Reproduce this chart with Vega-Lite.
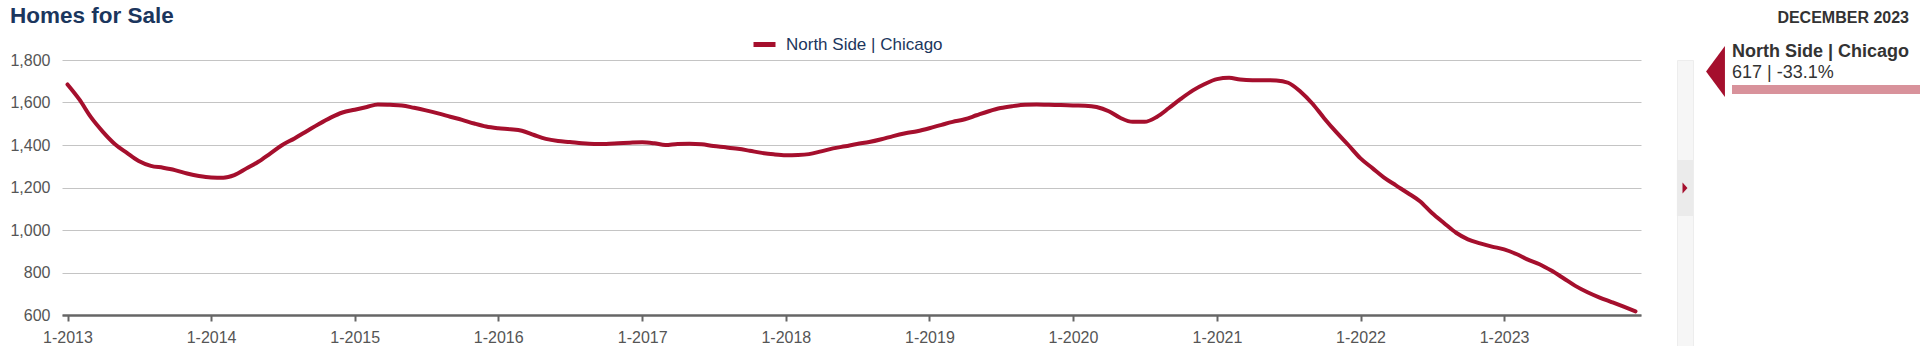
{
  "$schema": "https://vega.github.io/schema/vega-lite/v6.json",
  "autosize": {"type": "pad"},
  "padding": {"left": 9, "top": 4, "right": 0, "bottom": 0},
  "background": "white",
  "config": {"font": "Liberation Sans", "view": {"stroke": null}},
  "spacing": 35,
  "hconcat": [
    {
      "width": 1579,
      "height": 255,
      "title": {"text": "Homes for Sale", "anchor": "start", "frame": "bounds", "fontSize": 22.5, "fontWeight": "bold", "color": "#1b365d", "offset": 25},
      "data": {"values": [
        {"date": "2013-01-01", "homes": 1685, "region": "North Side | Chicago"},
        {"date": "2013-02-01", "homes": 1612, "region": "North Side | Chicago"},
        {"date": "2013-03-01", "homes": 1532, "region": "North Side | Chicago"},
        {"date": "2013-04-01", "homes": 1462, "region": "North Side | Chicago"},
        {"date": "2013-05-01", "homes": 1405, "region": "North Side | Chicago"},
        {"date": "2013-06-01", "homes": 1363, "region": "North Side | Chicago"},
        {"date": "2013-07-01", "homes": 1325, "region": "North Side | Chicago"},
        {"date": "2013-08-01", "homes": 1302, "region": "North Side | Chicago"},
        {"date": "2013-09-01", "homes": 1293, "region": "North Side | Chicago"},
        {"date": "2013-10-01", "homes": 1282, "region": "North Side | Chicago"},
        {"date": "2013-11-01", "homes": 1266, "region": "North Side | Chicago"},
        {"date": "2013-12-01", "homes": 1254, "region": "North Side | Chicago"},
        {"date": "2014-01-01", "homes": 1247, "region": "North Side | Chicago"},
        {"date": "2014-02-01", "homes": 1246, "region": "North Side | Chicago"},
        {"date": "2014-03-01", "homes": 1258, "region": "North Side | Chicago"},
        {"date": "2014-04-01", "homes": 1290, "region": "North Side | Chicago"},
        {"date": "2014-05-01", "homes": 1321, "region": "North Side | Chicago"},
        {"date": "2014-06-01", "homes": 1361, "region": "North Side | Chicago"},
        {"date": "2014-07-01", "homes": 1400, "region": "North Side | Chicago"},
        {"date": "2014-08-01", "homes": 1431, "region": "North Side | Chicago"},
        {"date": "2014-09-01", "homes": 1465, "region": "North Side | Chicago"},
        {"date": "2014-10-01", "homes": 1498, "region": "North Side | Chicago"},
        {"date": "2014-11-01", "homes": 1529, "region": "North Side | Chicago"},
        {"date": "2014-12-01", "homes": 1553, "region": "North Side | Chicago"},
        {"date": "2015-01-01", "homes": 1566, "region": "North Side | Chicago"},
        {"date": "2015-02-01", "homes": 1579, "region": "North Side | Chicago"},
        {"date": "2015-03-01", "homes": 1591, "region": "North Side | Chicago"},
        {"date": "2015-04-01", "homes": 1589, "region": "North Side | Chicago"},
        {"date": "2015-05-01", "homes": 1586, "region": "North Side | Chicago"},
        {"date": "2015-06-01", "homes": 1575, "region": "North Side | Chicago"},
        {"date": "2015-07-01", "homes": 1563, "region": "North Side | Chicago"},
        {"date": "2015-08-01", "homes": 1549, "region": "North Side | Chicago"},
        {"date": "2015-09-01", "homes": 1533, "region": "North Side | Chicago"},
        {"date": "2015-10-01", "homes": 1518, "region": "North Side | Chicago"},
        {"date": "2015-11-01", "homes": 1501, "region": "North Side | Chicago"},
        {"date": "2015-12-01", "homes": 1487, "region": "North Side | Chicago"},
        {"date": "2016-01-01", "homes": 1479, "region": "North Side | Chicago"},
        {"date": "2016-02-01", "homes": 1474, "region": "North Side | Chicago"},
        {"date": "2016-03-01", "homes": 1467, "region": "North Side | Chicago"},
        {"date": "2016-04-01", "homes": 1447, "region": "North Side | Chicago"},
        {"date": "2016-05-01", "homes": 1429, "region": "North Side | Chicago"},
        {"date": "2016-06-01", "homes": 1419, "region": "North Side | Chicago"},
        {"date": "2016-07-01", "homes": 1414, "region": "North Side | Chicago"},
        {"date": "2016-08-01", "homes": 1408, "region": "North Side | Chicago"},
        {"date": "2016-09-01", "homes": 1405, "region": "North Side | Chicago"},
        {"date": "2016-10-01", "homes": 1405, "region": "North Side | Chicago"},
        {"date": "2016-11-01", "homes": 1408, "region": "North Side | Chicago"},
        {"date": "2016-12-01", "homes": 1411, "region": "North Side | Chicago"},
        {"date": "2017-01-01", "homes": 1413, "region": "North Side | Chicago"},
        {"date": "2017-02-01", "homes": 1408, "region": "North Side | Chicago"},
        {"date": "2017-03-01", "homes": 1400, "region": "North Side | Chicago"},
        {"date": "2017-04-01", "homes": 1405, "region": "North Side | Chicago"},
        {"date": "2017-05-01", "homes": 1406, "region": "North Side | Chicago"},
        {"date": "2017-06-01", "homes": 1403, "region": "North Side | Chicago"},
        {"date": "2017-07-01", "homes": 1395, "region": "North Side | Chicago"},
        {"date": "2017-08-01", "homes": 1389, "region": "North Side | Chicago"},
        {"date": "2017-09-01", "homes": 1382, "region": "North Side | Chicago"},
        {"date": "2017-10-01", "homes": 1373, "region": "North Side | Chicago"},
        {"date": "2017-11-01", "homes": 1363, "region": "North Side | Chicago"},
        {"date": "2017-12-01", "homes": 1356, "region": "North Side | Chicago"},
        {"date": "2018-01-01", "homes": 1352, "region": "North Side | Chicago"},
        {"date": "2018-02-01", "homes": 1353, "region": "North Side | Chicago"},
        {"date": "2018-03-01", "homes": 1357, "region": "North Side | Chicago"},
        {"date": "2018-04-01", "homes": 1370, "region": "North Side | Chicago"},
        {"date": "2018-05-01", "homes": 1384, "region": "North Side | Chicago"},
        {"date": "2018-06-01", "homes": 1394, "region": "North Side | Chicago"},
        {"date": "2018-07-01", "homes": 1405, "region": "North Side | Chicago"},
        {"date": "2018-08-01", "homes": 1414, "region": "North Side | Chicago"},
        {"date": "2018-09-01", "homes": 1427, "region": "North Side | Chicago"},
        {"date": "2018-10-01", "homes": 1442, "region": "North Side | Chicago"},
        {"date": "2018-11-01", "homes": 1455, "region": "North Side | Chicago"},
        {"date": "2018-12-01", "homes": 1465, "region": "North Side | Chicago"},
        {"date": "2019-01-01", "homes": 1479, "region": "North Side | Chicago"},
        {"date": "2019-02-01", "homes": 1495, "region": "North Side | Chicago"},
        {"date": "2019-03-01", "homes": 1509, "region": "North Side | Chicago"},
        {"date": "2019-04-01", "homes": 1521, "region": "North Side | Chicago"},
        {"date": "2019-05-01", "homes": 1540, "region": "North Side | Chicago"},
        {"date": "2019-06-01", "homes": 1559, "region": "North Side | Chicago"},
        {"date": "2019-07-01", "homes": 1574, "region": "North Side | Chicago"},
        {"date": "2019-08-01", "homes": 1583, "region": "North Side | Chicago"},
        {"date": "2019-09-01", "homes": 1589, "region": "North Side | Chicago"},
        {"date": "2019-10-01", "homes": 1591, "region": "North Side | Chicago"},
        {"date": "2019-11-01", "homes": 1589, "region": "North Side | Chicago"},
        {"date": "2019-12-01", "homes": 1588, "region": "North Side | Chicago"},
        {"date": "2020-01-01", "homes": 1586, "region": "North Side | Chicago"},
        {"date": "2020-02-01", "homes": 1585, "region": "North Side | Chicago"},
        {"date": "2020-03-01", "homes": 1579, "region": "North Side | Chicago"},
        {"date": "2020-04-01", "homes": 1559, "region": "North Side | Chicago"},
        {"date": "2020-05-01", "homes": 1527, "region": "North Side | Chicago"},
        {"date": "2020-06-01", "homes": 1509, "region": "North Side | Chicago"},
        {"date": "2020-07-01", "homes": 1509, "region": "North Side | Chicago"},
        {"date": "2020-08-01", "homes": 1532, "region": "North Side | Chicago"},
        {"date": "2020-09-01", "homes": 1574, "region": "North Side | Chicago"},
        {"date": "2020-10-01", "homes": 1617, "region": "North Side | Chicago"},
        {"date": "2020-11-01", "homes": 1657, "region": "North Side | Chicago"},
        {"date": "2020-12-01", "homes": 1687, "region": "North Side | Chicago"},
        {"date": "2021-01-01", "homes": 1710, "region": "North Side | Chicago"},
        {"date": "2021-02-01", "homes": 1716, "region": "North Side | Chicago"},
        {"date": "2021-03-01", "homes": 1708, "region": "North Side | Chicago"},
        {"date": "2021-04-01", "homes": 1705, "region": "North Side | Chicago"},
        {"date": "2021-05-01", "homes": 1705, "region": "North Side | Chicago"},
        {"date": "2021-06-01", "homes": 1704, "region": "North Side | Chicago"},
        {"date": "2021-07-01", "homes": 1693, "region": "North Side | Chicago"},
        {"date": "2021-08-01", "homes": 1652, "region": "North Side | Chicago"},
        {"date": "2021-09-01", "homes": 1594, "region": "North Side | Chicago"},
        {"date": "2021-10-01", "homes": 1525, "region": "North Side | Chicago"},
        {"date": "2021-11-01", "homes": 1459, "region": "North Side | Chicago"},
        {"date": "2021-12-01", "homes": 1400, "region": "North Side | Chicago"},
        {"date": "2022-01-01", "homes": 1337, "region": "North Side | Chicago"},
        {"date": "2022-02-01", "homes": 1290, "region": "North Side | Chicago"},
        {"date": "2022-03-01", "homes": 1248, "region": "North Side | Chicago"},
        {"date": "2022-04-01", "homes": 1210, "region": "North Side | Chicago"},
        {"date": "2022-05-01", "homes": 1174, "region": "North Side | Chicago"},
        {"date": "2022-06-01", "homes": 1135, "region": "North Side | Chicago"},
        {"date": "2022-07-01", "homes": 1081, "region": "North Side | Chicago"},
        {"date": "2022-08-01", "homes": 1033, "region": "North Side | Chicago"},
        {"date": "2022-09-01", "homes": 987, "region": "North Side | Chicago"},
        {"date": "2022-10-01", "homes": 956, "region": "North Side | Chicago"},
        {"date": "2022-11-01", "homes": 937, "region": "North Side | Chicago"},
        {"date": "2022-12-01", "homes": 922, "region": "North Side | Chicago"},
        {"date": "2023-01-01", "homes": 909, "region": "North Side | Chicago"},
        {"date": "2023-02-01", "homes": 887, "region": "North Side | Chicago"},
        {"date": "2023-03-01", "homes": 862, "region": "North Side | Chicago"},
        {"date": "2023-04-01", "homes": 839, "region": "North Side | Chicago"},
        {"date": "2023-05-01", "homes": 809, "region": "North Side | Chicago"},
        {"date": "2023-06-01", "homes": 773, "region": "North Side | Chicago"},
        {"date": "2023-07-01", "homes": 737, "region": "North Side | Chicago"},
        {"date": "2023-08-01", "homes": 707, "region": "North Side | Chicago"},
        {"date": "2023-09-01", "homes": 682, "region": "North Side | Chicago"},
        {"date": "2023-10-01", "homes": 661, "region": "North Side | Chicago"},
        {"date": "2023-11-01", "homes": 639, "region": "North Side | Chicago"},
        {"date": "2023-12-01", "homes": 617, "region": "North Side | Chicago"}
      ]},
      "mark": {"type": "line", "strokeWidth": 4, "interpolate": "monotone", "strokeCap": "round", "strokeJoin": "round"},
      "encoding": {
        "x": {
          "field": "date", "type": "temporal",
          "scale": {"type": "utc", "domain": [{"year": 2012, "month": 12, "date": 18, "utc": true}, {"year": 2023, "month": 12, "date": 15, "utc": true}]},
          "axis": {"title": null, "format": "%-m-%Y", "tickCount": {"interval": "year", "step": 1}, "labelFontSize": 16, "labelColor": "#555555", "labelPadding": 8, "tickSize": 6, "tickWidth": 2, "tickColor": "#666666", "domainColor": "#666666", "domainWidth": 2.5, "grid": false, "labelFlush": false, "labelOverlap": false}
        },
        "y": {
          "field": "homes", "type": "quantitative",
          "scale": {"domain": [600, 1800], "nice": false, "zero": false},
          "axis": {"title": null, "values": [600, 800, 1000, 1200, 1400, 1600, 1800], "format": ",d", "grid": true, "gridColor": "#c4c4c4", "gridWidth": 1, "domain": false, "ticks": false, "labelFontSize": 16, "labelColor": "#555555", "labelPadding": 12}
        },
        "color": {
          "field": "region", "type": "nominal",
          "scale": {"range": ["#a50f2d"]},
          "legend": {"title": null, "orient": "none", "legendX": 689, "legendY": -29, "symbolType": "stroke", "symbolStrokeWidth": 5, "symbolSize": 484, "labelFontSize": 17, "labelColor": "#1b365d", "labelOffset": 8, "padding": 0}
        }
      }
    },
    {
      "spacing": 12,
      "hconcat": [
        {
          "width": 16,
          "height": 286,
          "view": {"fill": "#f6f6f6", "stroke": "#ededed"},
          "data": {"values": [{"name": "North Side | Chicago"}]},
          "layer": [
            {"mark": {"type": "point", "shape": "M -0.29 -1 L 0.29 -1 L 0.29 1 L -0.29 1 Z", "size": 3136, "filled": true, "color": "#ebebeb", "opacity": 1, "yOffset": -15}, "encoding": {}},
            {"mark": {"type": "point", "shape": "M -0.45 -1 L 0.45 0 L -0.45 1 Z", "size": 121, "filled": true, "color": "#a50f2d", "opacity": 1, "yOffset": -15}, "encoding": {}}
          ]
        },
        {
          "width": 189,
          "height": 59,
          "title": {"text": "DECEMBER 2023", "anchor": "end", "frame": "group", "fontSize": 16, "fontWeight": "bold", "color": "#333333", "offset": 17, "dx": -12},
          "data": {"values": [{"name": "North Side | Chicago", "value": 617, "change": "-33.1%", "summary": "617 | -33.1%"}]},
          "encoding": {"y": {"field": "name", "type": "nominal", "axis": null, "scale": {"paddingInner": 0, "paddingOuter": 0}}},
          "layer": [
            {"mark": {"type": "bar", "color": "#d8929b", "height": 9}, "encoding": {"x": {"field": "value", "type": "quantitative", "axis": null, "scale": {"domain": [0, 617], "nice": false}}}},
            {"mark": {"type": "point", "shape": "M 0.37 -1 L -0.37 0 L 0.37 1 Z", "size": 2601, "filled": true, "color": "#a50f2d", "opacity": 1, "xOffset": -16.5, "yOffset": -18}, "encoding": {"x": {"datum": 0}}},
            {"mark": {"type": "text", "align": "left", "baseline": "alphabetic", "dy": -32.2, "fontSize": 18, "fontWeight": "bold", "color": "#333333"}, "encoding": {"x": {"datum": 0}, "text": {"field": "name"}}},
            {"mark": {"type": "text", "align": "left", "baseline": "alphabetic", "dy": -11.2, "fontSize": 18, "color": "#333333"}, "encoding": {"x": {"datum": 0}, "text": {"field": "summary"}}}
          ]
        }
      ]
    }
  ]
}
